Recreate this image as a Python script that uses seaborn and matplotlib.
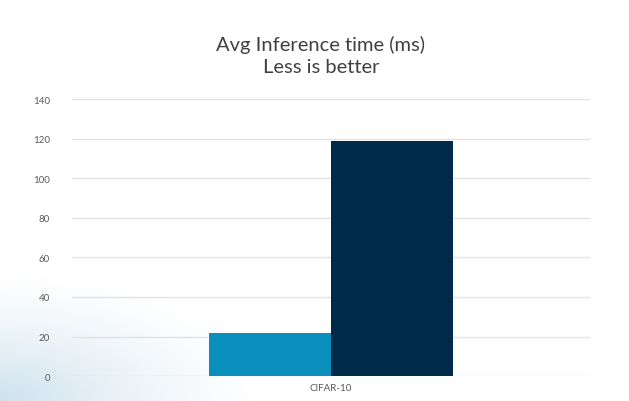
import numpy as np
import pandas as pd
import matplotlib
matplotlib.use("Agg")
import matplotlib.pyplot as plt
from matplotlib.colors import LinearSegmentedColormap
import seaborn as sns

# data
datasets = ["CIFAR-10"]
models = ["Model A", "Model B"]
inference_ms = [22, 119]
yticks = [0, 20, 40, 60, 80, 100, 120, 140]

df = pd.DataFrame({"dataset": datasets * len(models),
                   "model": models,
                   "ms": inference_ms})

sns.set_style("white")
plt.rcParams['font.family'] = ['Lato', 'DejaVu Sans']

fig = plt.figure(figsize=(6.29, 4.02), dpi=100, facecolor="white")

# faint decorative wash in the bottom-left corner
bg = fig.add_axes([0, 0, 1, 1], zorder=-1)
yy, xx = np.mgrid[0:1:200j, 0:1:300j]
wash = np.clip(1 - np.hypot(xx / 0.42, yy / 0.32), 0, 1) ** 1.3
wash_cmap = LinearSegmentedColormap.from_list("wash", ["#ffffff", "#cfe2ee"])
bg.imshow(wash, cmap=wash_cmap, origin="lower",
          extent=[0, 1, 0, 1], aspect="auto", vmin=0, vmax=1)
bg.set_axis_off()

ax = fig.add_axes([0.1145, 0.062, 0.8235, 0.689])
ax.patch.set_alpha(0)
sns.barplot(data=df, x="dataset", y="ms", hue="model",
            palette=["#0a8fbd", "#002a4a"], width=0.47, saturation=1,
            linewidth=0, legend=False, ax=ax)

ax.set_ylim(0, 140)
ax.set_xlim(-0.5, 0.5)
ax.set_yticks(yticks)
ax.yaxis.grid(True, color="#e2e2e2", linewidth=1)
ax.set_axisbelow(True)
ax.set_xlabel("")
ax.set_ylabel("")
for s in ax.spines.values():
    s.set_visible(False)
ax.tick_params(axis="both", length=0, labelsize=7, colors="#595959")
ax.tick_params(axis="y", pad=16)
ax.tick_params(axis="x", pad=5)

fig.text(0.51, 0.86, "Avg Inference time (ms)\nLess is better",
         ha="center", va="center", fontsize=14.5, color="#404040",
         linespacing=1.35)

fig.savefig("out.png", dpi=100, facecolor="white")
